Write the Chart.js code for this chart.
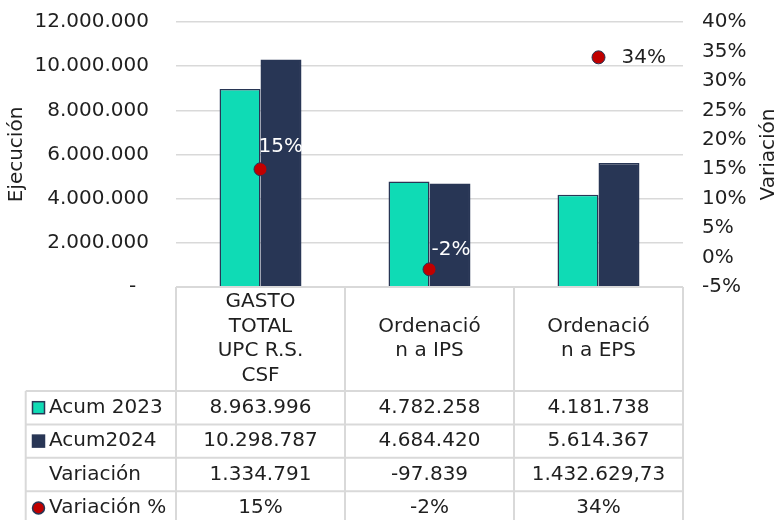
<!DOCTYPE html>
<html>
<head>
<meta charset="utf-8">
<script src="https://cdn.jsdelivr.net/npm/chart.js@4/dist/chart.umd.min.js"></script>
<style>
  body { margin: 0; background: #fff; }
</style>
</head>
<body>
<canvas id="myChart1" width="778" height="520"></canvas>
<script>
const categories = [
    ['GASTO', 'TOTAL', 'UPC R.S.', 'CSF'],
    ['Ordenació', 'n a IPS'],
    ['Ordenació', 'n a EPS']
];
const acum2023 = [8963996, 4782258, 4181738];
const acum2024 = [10298787, 4684420, 5614367];
const variacion = ['1.334.791', '-97.839', '1.432.629,73'];
const variacionPct = [15, -2, 34];

const TEAL = '#0fdbb5';
const NAVY = '#283655';
const RED = '#c00000';
const GRID = '#d9d9d9';
const TEXT = '#1f1f1f';
const FONT = '"DejaVu Sans", Verdana, sans-serif';

function fmtMiles(v) {
    return String(Math.round(v)).replace(/\B(?=(\d{3})+(?!\d))/g, '.');
}

// etiquetas de los puntos de variación %
const pointLabels = {
    id: 'pointLabels',
    afterDatasetsDraw(chart) {
        const ctx = chart.ctx;
        const meta = chart.getDatasetMeta(2);
        const offs = [[-2, -22, '#ffffff'], [2, -20, '#ffffff'], [23, 0, TEXT]];
        ctx.save();
        ctx.font = '20px ' + FONT;
        ctx.textAlign = 'left';
        ctx.textBaseline = 'middle';
        meta.data.forEach((pt, i) => {
            const o = offs[i];
            ctx.fillStyle = o[2];
            ctx.fillText(variacionPct[i] + '%', pt.x + o[0], pt.y + o[1]);
        });
        ctx.restore();
    }
};

// titulo eje derecho (lee de abajo hacia arriba)
const rightTitle = {
    id: 'rightTitle',
    afterDraw(chart) {
        const ctx = chart.ctx;
        const a = chart.chartArea;
        ctx.save();
        ctx.translate(769, (a.top + a.bottom) / 2);
        ctx.rotate(-Math.PI / 2);
        ctx.font = '20px ' + FONT;
        ctx.fillStyle = TEXT;
        ctx.textAlign = 'center';
        ctx.textBaseline = 'middle';
        ctx.fillText('Variación', 0, 0);
        ctx.restore();
    }
};

// tabla de datos debajo del grafico
const dataTable = {
    id: 'dataTable',
    afterDraw(chart) {
        const ctx = chart.ctx;
        const a = chart.chartArea;
        const x = chart.scales.x;
        const n = categories.length;
        const colW = (a.right - a.left) / n;
        const headH = 104;
        const rowH = 33.4;
        const tableLeft = 25.7;
        const rowsTop = a.bottom + headH;
        const bottom = 560;

        ctx.save();
        ctx.strokeStyle = GRID;
        ctx.lineWidth = 2;
        ctx.beginPath();
        ctx.moveTo(a.left, a.bottom);
        ctx.lineTo(a.right, a.bottom);
        for (let i = 0; i <= n; i++) {
            const cx = a.left + i * colW;
            ctx.moveTo(cx, a.bottom);
            ctx.lineTo(cx, bottom);
        }
        for (let r = 0; r < 4; r++) {
            const y = rowsTop + r * rowH;
            ctx.moveTo(tableLeft, y);
            ctx.lineTo(a.right, y);
        }
        ctx.moveTo(tableLeft, rowsTop);
        ctx.lineTo(tableLeft, bottom);
        ctx.stroke();

        ctx.font = '20px ' + FONT;
        ctx.fillStyle = TEXT;
        ctx.textBaseline = 'middle';
        ctx.textAlign = 'center';

        // encabezados de categoria
        const lh = 24.5;
        categories.forEach((lines, i) => {
            const cx = x.getPixelForValue(i);
            const mid = a.bottom + headH / 2;
            lines.forEach((t, k) => {
                ctx.fillText(t, cx, mid + (k - (lines.length - 1) / 2) * lh);
            });
        });

        const rows = [
            acum2023.map(fmtMiles),
            acum2024.map(fmtMiles),
            variacion,
            variacionPct.map(v => v + '%')
        ];
        rows.forEach((vals, r) => {
            const cy = rowsTop + r * rowH + rowH / 2;
            vals.forEach((t, i) => {
                ctx.fillText(t, x.getPixelForValue(i), cy);
            });
        });

        // columna de leyenda
        const names = ['Acum 2023', 'Acum2024', 'Variación', 'Variación %'];
        ctx.textAlign = 'left';
        names.forEach((t, r) => {
            const cy = rowsTop + r * rowH + rowH / 2;
            ctx.fillStyle = TEXT;
            ctx.fillText(t, 49, cy);
            if (r === 0 || r === 1) {
                ctx.fillStyle = r === 0 ? TEAL : NAVY;
                ctx.fillRect(32.5, cy - 6, 12, 12);
                ctx.strokeStyle = NAVY;
                ctx.lineWidth = 1.5;
                ctx.strokeRect(32.5, cy - 6, 12, 12);
            } else if (r === 3) {
                ctx.beginPath();
                ctx.arc(38.5, cy, 6, 0, Math.PI * 2);
                ctx.fillStyle = RED;
                ctx.fill();
                ctx.strokeStyle = NAVY;
                ctx.lineWidth = 1.5;
                ctx.stroke();
            }
        });
        ctx.restore();
    }
};

const data = {
    labels: categories,
    datasets: [{
        label: 'Acum 2023',
        data: acum2023,
        backgroundColor: TEAL,
        borderColor: NAVY,
        borderWidth: 1.5,
        yAxisID: 'y',
        order: 2
    }, {
        label: 'Acum2024',
        data: acum2024,
        backgroundColor: NAVY,
        borderColor: NAVY,
        borderWidth: 1.5,
        yAxisID: 'y',
        order: 2
    }, {
        type: 'line',
        label: 'Variación %',
        data: variacionPct,
        showLine: false,
        pointRadius: 6.5,
        pointBackgroundColor: RED,
        pointBorderColor: NAVY,
        pointBorderWidth: 1,
        yAxisID: 'y1',
        order: 1
    }]
};

// el padding de los ticks no debe empujar el area del grafico
function fixWidth(w) {
    return s => {
        s.width = w;
        s.paddingTop = 12;
        s.paddingBottom = 12;
    };
}

const config1 = {
    type: 'bar',
    data: data,
    plugins: [pointLabels, rightTitle, dataTable],
    options: {
        responsive: false,
        animation: false,
        categoryPercentage: 0.485,
        barPercentage: 1,
        layout: { padding: { top: 22, bottom: 233, left: 0, right: 0 } },
        plugins: {
            legend: { display: false },
            tooltip: { enabled: false }
        },
        scales: {
            x: {
                display: false
            },
            y: {
                position: 'left',
                min: 0,
                max: 12000000,
                afterFit: fixWidth(176),
                border: { display: false },
                grid: { color: GRID, lineWidth: 1.5, drawTicks: false },
                ticks: {
                    stepSize: 2000000,
                    padding: 27,
                    color: TEXT,
                    font: { family: FONT, size: 20 },
                    callback: v => v === 0 ? '-  ' : fmtMiles(v)
                },
                title: {
                    display: true,
                    text: 'Ejecución',
                    color: TEXT,
                    font: { family: FONT, size: 20 },
                    padding: { top: 5, bottom: 0 }
                }
            },
            y1: {
                position: 'right',
                min: -5,
                max: 40,
                afterFit: fixWidth(95),
                border: { display: false },
                grid: { display: false, drawTicks: false },
                ticks: {
                    stepSize: 5,
                    padding: 19,
                    color: TEXT,
                    font: { family: FONT, size: 20 },
                    callback: v => v + '%'
                }
            }
        }
    }
};

const myChart = new Chart(
    document.getElementById('myChart1'),
    config1
);
</script>
</body>
</html>
